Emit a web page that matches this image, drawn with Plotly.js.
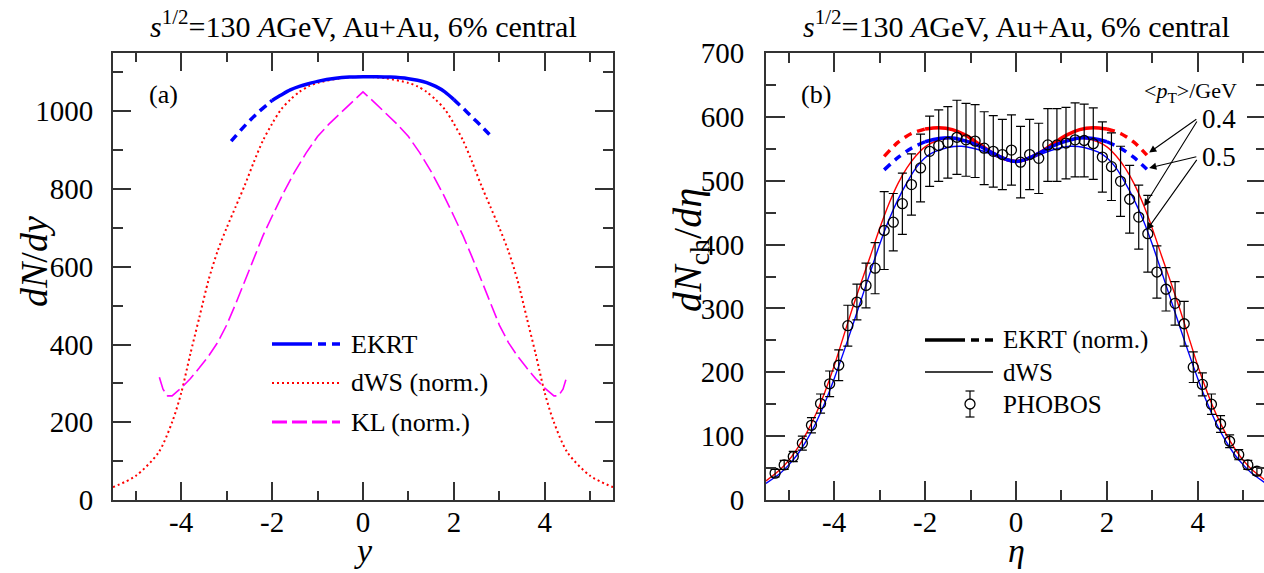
<!DOCTYPE html>
<html><head><meta charset="utf-8">
<script src="https://cdn.plot.ly/plotly-3.0.1.min.js"></script>
<style>html,body{margin:0;padding:0;overflow:hidden;background:#fff}#chart{width:1266px;height:573px}
#chart text{font-family:'Liberation Serif',serif !important}</style>
</head><body><div id="chart"></div>
<script>
// ---------- Panel (a): dN/dy vs y ----------
const ekrtA_y   = [-2.9,-2.7,-2.5,-2.3,-2.1,-2.0,-1.8,-1.6,-1.4,-1.2,-1.0,-0.6,-0.3,0,0.3,0.6,1.0,1.2,1.4,1.6,1.8,2.0,2.2,2.4,2.6,2.8];
const ekrtA_val = [923,950,975,998,1018,1028,1042,1055,1064,1071,1077,1085,1088,1089,1089,1088,1084,1080,1074,1064,1050,1030,1008,985,962,938];

const dwsA_y   = [-5.5,-5.0,-4.5,-4.2,-4.0,-3.8,-3.6,-3.4,-3.2,-3.0,-2.8,-2.6,-2.4,-2.2,-2.0,-1.8,-1.6,-1.4,-1.2,-1.0,-0.5,0,0.5,1.0,1.2,1.4,1.6,1.8,2.0,2.2,2.4,2.6,2.8,3.0,3.2,3.4,3.6,3.8,4.0,4.2,4.5,5.0,5.5];
const dwsA_val = [33,62,122,200,275,375,470,565,640,700,755,810,870,925,968,1005,1030,1050,1064,1073,1085,1089,1085,1073,1064,1050,1030,1005,968,925,870,810,755,700,640,565,470,375,275,200,122,62,33];

const klA_y   = [-4.48,-4.4,-4.3,-4.2,-4.0,-3.8,-3.6,-3.4,-3.2,-3.0,-2.8,-2.6,-2.4,-2.2,-2.0,-1.75,-1.5,-1.25,-1.0,-0.75,-0.5,-0.25,0,0.25,0.5,0.75,1.0,1.25,1.5,1.75,2.0,2.2,2.4,2.6,2.8,3.0,3.2,3.4,3.6,3.8,4.0,4.2,4.3,4.4,4.48];
const klA_val = [316,285,268,268,288,312,340,370,405,450,505,565,625,680,730,790,845,893,935,967,995,1023,1050,1023,995,967,935,893,845,790,730,680,625,565,505,450,405,370,340,312,288,268,268,285,316];

// ---------- Panel (b): dNch/deta vs eta ----------
const dwsB_eta  = [-5.5,-5.2,-5.0,-4.8,-4.6,-4.4,-4.2,-4.0,-3.8,-3.6,-3.4,-3.2,-3.0,-2.8,-2.6,-2.4,-2.2,-2.0,-1.8,-1.5,-1.2,-0.9,-0.6,-0.3,0,0.3,0.6,0.9,1.2,1.5,1.8,2.0,2.2,2.4,2.6,2.8,3.0,3.2,3.4,3.6,3.8,4.0,4.2,4.4,4.6,4.8,5.0,5.2,5.5];
const dws04_val = [30,47,62,82,106,135,170,210,255,300,342,383,425,463,495,520,539,553,561,566,565,559,548,535,529,535,548,559,565,566,561,553,539,520,495,463,425,383,342,300,255,210,170,135,106,82,62,47,30];
const dws05_val = [26,41,55,72,94,121,153,190,230,272,315,358,400,438,470,497,520,536,545,552,554,550,543,534,529,534,543,550,554,552,545,536,520,497,470,438,400,358,315,272,230,190,153,121,94,72,55,41,26];

const ekrtB_eta  = [-2.9,-2.6,-2.3,-2.0,-1.7,-1.4,-1.1,-0.8,-0.5,-0.2,0,0.2,0.5,0.8,1.1,1.4,1.7,2.0,2.3,2.6,2.88];
const ekrt04_val = [538,560,574,581,583,580,571,557,543,533,530,533,543,557,571,580,583,581,574,560,540];
const ekrt05_val = [517,536,551,561,566,567,562,554,543,533,530,533,543,554,562,567,566,561,551,536,518];

const phobosEta = [-5.3,-5.1,-4.9,-4.7,-4.5,-4.3,-4.1,-3.9,-3.7,-3.5,-3.3,-3.1,-2.9,-2.7,-2.5,-2.3,-2.1,-1.9,-1.7,-1.5,-1.3,-1.1,-0.9,-0.7,-0.5,-0.3,-0.1,0.1,0.3,0.5,0.7,0.9,1.1,1.3,1.5,1.7,1.9,2.1,2.3,2.5,2.7,2.9,3.1,3.3,3.5,3.7,3.9,4.1,4.3,4.5,4.7,4.9,5.1,5.3];
const phobosVal = [42,55,68,89,117,151,182,211,273,310,336,363,422,435,464,494,520,546,555,560,568,564,562,551,546,541,548,529,541,535,556,556,559,564,563,558,537,522,499,471,443,417,357,330,308,276,208,181,150,119,92,71,55,45];
const phobosErr = [6,7,8,11,12,15,20,24,32,28,35,40,61,45,48,48,53,55,56,56,58,57,57,57,56,55,55,56,55,55,57,57,56,58,57,56,55,53,55,53,50,60,41,34,34,35,24,18,16,13,10,8,7,6];

// ---------- tick labels ----------
const xTickVals = [-4,-2,0,2,4];
const xTickText = ['-4','-2','0','2','4'];
const xMinorVals = [-5,-3,-1,1,3,5];
const yATickVals = [0,200,400,600,800,1000];
const yATickText = ['0','200','400','600','800','1000'];
const yAMinorVals = [100,300,500,700,900,1100];
const yBTickVals = [0,100,200,300,400,500,600,700];
const yBTickText = ['0','100','200','300','400','500','600','700'];
const yBMinorVals = [50,150,250,350,450,550,650];

// ---------- layout helpers ----------
const FONT = '"Liberation Serif", "Times New Roman", serif';
const W = 1266, H = 573;
const PX = v => v / W, PY = v => 1 - v / H;
const AX = '#333';

function seg(xs, ys, lo, hi) {
  const X = [], Y = [];
  xs.forEach((x, i) => { if (x >= lo - 1e-9 && x <= hi + 1e-9) { X.push(x); Y.push(ys[i]); } });
  return {x: X, y: Y};
}
function line(xs, ys, xa, ya, color, width, dash, shape) {
  return {type: 'scatter', mode: 'lines', x: xs, y: ys, xaxis: xa, yaxis: ya,
    line: {color: color, width: width, dash: dash || 'solid', shape: shape || 'spline', smoothing: 0.8},
    hoverinfo: 'skip', showlegend: false};
}

const traces = [];
// panel a
traces.push(line(dwsA_y, dwsA_val, 'x', 'y', '#ff0000', 2, '2px,3px'));
traces.push(line(klA_y, klA_val, 'x', 'y', '#ff00ff', 1.6, '15px,5px', 'linear'));
let s = seg(ekrtA_y, ekrtA_val, -10, -2); traces.push(line(s.x, s.y, 'x', 'y', '#0000ff', 3.5, '8px,6px'));
s = seg(ekrtA_y, ekrtA_val, 2, 10); traces.push(line(s.x, s.y, 'x', 'y', '#0000ff', 3.5, '8px,6px'));
s = seg(ekrtA_y, ekrtA_val, -2, 2); traces.push(line(s.x, s.y, 'x', 'y', '#0000ff', 3.5));
// panel b
traces.push(line(dwsB_eta, dws04_val, 'x2', 'y2', '#ff0000', 1.4));
traces.push(line(dwsB_eta, dws05_val, 'x2', 'y2', '#0000ff', 1.4));
[[ekrt04_val, '#ff0000'], [ekrt05_val, '#0000ff']].forEach(([vals, c]) => {
  let q = seg(ekrtB_eta, vals, -10, -2); traces.push(line(q.x, q.y, 'x2', 'y2', c, 3.5, '8px,6px'));
  q = seg(ekrtB_eta, vals, 2, 10); traces.push(line(q.x, q.y, 'x2', 'y2', c, 3.5, '8px,6px'));
  q = seg(ekrtB_eta, vals, -2, 2); traces.push(line(q.x, q.y, 'x2', 'y2', c, 3.5));
});
traces.push({type: 'scatter', mode: 'markers', x: phobosEta, y: phobosVal, xaxis: 'x2', yaxis: 'y2',
  marker: {symbol: 'circle-open', size: 10, color: '#000', line: {width: 1.3, color: '#000'}},
  error_y: {type: 'data', array: phobosErr, visible: true, color: '#000', thickness: 1.2, width: 4.5},
  hoverinfo: 'skip', showlegend: false});

function axis(extra) {
  return Object.assign({showline: true, linecolor: AX, linewidth: 2, mirror: 'ticks', ticks: 'inside',
    tickwidth: 2, tickcolor: AX, showgrid: false, zeroline: false, fixedrange: true, tickmode: 'array',
    tickfont: {family: FONT, size: 29, color: '#000'}}, extra);
}
function minor(vals, len) { return {tickmode: 'array', tickvals: vals, ticks: 'inside', ticklen: len, tickwidth: 2, tickcolor: AX, showgrid: false}; }

const yDom = [1 - 500 / H, 1 - 53 / H];
const layout = {
  width: W, height: H, margin: {l: 0, r: 0, t: 0, b: 0}, paper_bgcolor: '#fff', plot_bgcolor: 'rgba(0,0,0,0)',
  showlegend: false, font: {family: FONT, color: '#000'},
  xaxis: axis({domain: [113 / W, 613 / W], range: [-5.5, 5.5], tickvals: xTickVals, ticktext: xTickText, ticklen: 18, ticklabelstandoff: -5, anchor: 'y', minor: minor(xMinorVals, 9)}),
  yaxis: axis({domain: yDom, range: [0, 1150], tickvals: yATickVals, ticktext: yATickText, ticklen: 18, ticklabelstandoff: 12, anchor: 'x', minor: minor(yAMinorVals, 10)}),
  xaxis2: axis({domain: [766 / W, 1], range: [-5.5, 5.5], tickvals: xTickVals, ticktext: xTickText, ticklen: 19, ticklabelstandoff: -5, anchor: 'y2', minor: minor(xMinorVals, 10)}),
  yaxis2: axis({domain: yDom, range: [0, 700], tickvals: yBTickVals, ticktext: yBTickText, ticklen: 19, ticklabelstandoff: 14, anchor: 'x2', minor: minor(yBMinorVals, 10)}),
  annotations: [], shapes: []
};

const titleText = '<i>s</i><sup>1/2</sup>=130 <i>A</i>GeV, Au+Au, 6% central';
function txt(text, x, y, size, xanchor, extra) {
  return Object.assign({text: text, xref: 'paper', yref: 'paper', x: PX(x), y: PY(y), xanchor: xanchor || 'center', yanchor: 'middle',
    showarrow: false, font: {family: FONT, size: size, color: '#000'}}, extra || {});
}
const A = layout.annotations;
A.push(txt(titleText, 363, 24, 30));
A.push(txt(titleText, 1016, 24, 30));
A.push(txt('(a)', 147, 95, 26, 'left'));
A.push(txt('(b)', 799, 95, 26, 'left'));
A.push(txt('<i>dN</i>/<i>dy</i>', 34, 262, 38, 'center', {textangle: -90}));
A.push(txt('<i>dN</i><sub>ch</sub>/<i>dη</i>', 690, 250, 40, 'center', {textangle: -90}));
A.push(txt('<i>y</i>', 363, 550, 34));
A.push(txt('<i>η</i>', 1016, 550, 34));
// legend (a)
A.push(txt('EKRT', 349, 344, 26, 'left'));
A.push(txt('dWS (norm.)', 349, 383, 26, 'left'));
A.push(txt('KL (norm.)', 349, 422, 26, 'left'));
// legend (b)
A.push(txt('EKRT (norm.)', 1001, 340, 25, 'left'));
A.push(txt('dWS', 1001, 372, 25, 'left'));
A.push(txt('PHOBOS', 1001, 404, 25, 'left'));
A.push(txt('&lt;<i>p</i><sub>T</sub>&gt;/GeV', 1190, 92, 22, 'center'));
A.push(txt('0.4', 1200, 119, 27, 'left'));
A.push(txt('0.5', 1200, 157, 27, 'left'));
// arrows
function arrow(x, y, ax, ay) {
  return {xref: 'x2', yref: 'y2', axref: 'x2', ayref: 'y2', x: x, y: y, ax: ax, ay: ay, text: '', showarrow: true,
    arrowhead: 2, arrowsize: 1.3, arrowwidth: 1.1, arrowcolor: '#000'};
}
A.push(arrow(2.93, 544, 4.0, 598));
A.push(arrow(2.82, 460, 4.0, 595));
A.push(arrow(2.93, 520, 4.0, 538));
A.push(arrow(2.88, 423, 4.0, 535));

// legend sample shapes
const S = layout.shapes;
function seg2(x0, x1, y, color, width, dash) {
  return {type: 'line', xref: 'paper', yref: 'paper', x0: PX(x0), x1: PX(x1), y0: PY(y), y1: PY(y), line: {color: color, width: width, dash: dash || 'solid'}};
}
S.push(seg2(272, 312, 344, '#0000ff', 3.5));
S.push(seg2(318, 340, 344, '#0000ff', 3.5, '8px,6px'));
S.push(seg2(272, 340, 383, '#ff0000', 2, '2px,3px'));
S.push(seg2(272, 340, 422, '#ff00ff', 3, '15px,5px'));
S.push(seg2(925, 965, 340, '#000', 3.5));
S.push(seg2(971, 993, 340, '#000', 3.5, '8px,6px'));
S.push(seg2(925, 993, 372, '#000', 1.4));
S.push({type: 'line', xref: 'paper', yref: 'paper', x0: PX(970), x1: PX(970), y0: PY(391), y1: PY(417), line: {color: '#000', width: 1.2}});
S.push(seg2(965.5, 974.5, 391, '#000', 1.2));
S.push(seg2(965.5, 974.5, 417, '#000', 1.2));
S.push({type: 'circle', xref: 'paper', yref: 'paper', x0: PX(965), x1: PX(975), y0: PY(409), y1: PY(399), line: {color: '#000', width: 1.3}, fillcolor: '#fff'});

Plotly.newPlot('chart', traces, layout, {staticPlot: true, displayModeBar: false});
</script></body></html>
